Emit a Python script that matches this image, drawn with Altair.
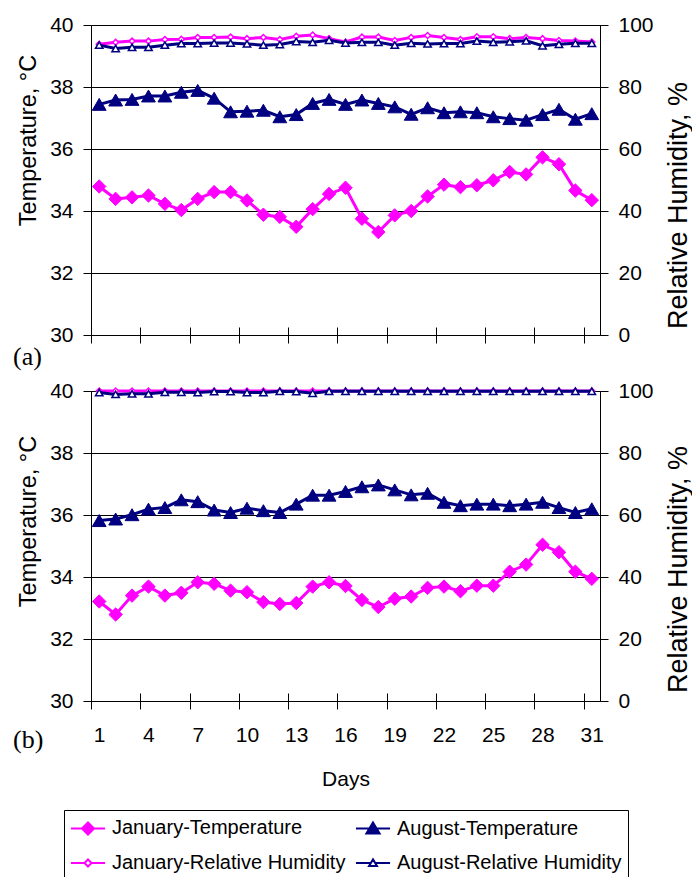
import altair as alt
import pandas as pd

# ---------------- data ----------------
days = list(range(1, 32))
label_days = [1, 4, 7, 10, 13, 16, 19, 22, 25, 28, 31]
temp_ticks = [30, 32, 34, 36, 38, 40]
rh_ticks = [0, 20, 40, 60, 80, 100]

# legend order (Vega fills legend columns top-to-bottom)
series_names = ["January-Temperature", "January-Relative Humidity",
                "August-Temperature", "August-Relative Humidity"]

# (a)
jan_temp_a = [34.79, 34.39, 34.44, 34.50, 34.23, 34.03, 34.39, 34.61, 34.61, 34.34,
              33.88, 33.81, 33.49, 34.06, 34.55, 34.75, 33.75, 33.32, 33.86, 34.00,
              34.47, 34.85, 34.77, 34.83, 34.99, 35.26, 35.18, 35.73, 35.51, 34.66, 34.35]
aug_temp_a = [37.44, 37.58, 37.60, 37.71, 37.71, 37.83, 37.89, 37.64, 37.20, 37.22,
              37.25, 37.04, 37.11, 37.47, 37.60, 37.44, 37.58, 37.47, 37.36, 37.12,
              37.33, 37.17, 37.20, 37.17, 37.04, 36.98, 36.93, 37.11, 37.28, 36.96, 37.14]
jan_rh_a = [93.8, 94.4, 94.8, 94.8, 95.3, 95.4, 96.0, 96.0, 96.1, 95.6,
            96.0, 95.3, 96.4, 96.8, 95.6, 94.5, 96.1, 96.1, 95.0, 96.0,
            96.6, 96.0, 95.3, 96.2, 96.2, 95.6, 96.0, 95.6, 95.0, 94.8, 94.5]
aug_rh_a = [93.5, 92.4, 92.8, 92.8, 93.5, 94.0, 94.0, 94.2, 94.2, 93.9,
            93.5, 93.7, 94.7, 94.4, 95.1, 94.2, 94.4, 94.4, 93.5, 94.1,
            93.9, 94.0, 94.0, 94.8, 94.4, 94.6, 94.9, 93.3, 93.8, 94.1, 94.1]

# (b)
jan_temp_b = [33.21, 32.79, 33.40, 33.69, 33.40, 33.49, 33.83, 33.78, 33.56, 33.51,
              33.19, 33.13, 33.16, 33.69, 33.83, 33.71, 33.26, 33.03, 33.30, 33.37,
              33.65, 33.69, 33.54, 33.72, 33.72, 34.17, 34.40, 35.04, 34.80, 34.17, 33.94]
aug_temp_b = [35.82, 35.87, 36.01, 36.19, 36.24, 36.49, 36.43, 36.16, 36.08, 36.22,
              36.14, 36.08, 36.35, 36.64, 36.64, 36.76, 36.91, 36.97, 36.81, 36.65,
              36.70, 36.41, 36.30, 36.35, 36.35, 36.30, 36.35, 36.41, 36.24, 36.08, 36.20]
jan_rh_b = [100.0, 100.0, 100.0, 100.0, 100.0, 100.0, 100.0, 100.0, 100.0, 100.0,
            100.0, 100.0, 100.0, 100.0, 100.0, 100.0, 100.0, 100.0, 100.0, 100.0,
            100.0, 100.0, 100.0, 100.0, 100.0, 100.0, 100.0, 100.0, 100.0, 100.0, 100.0]
aug_rh_b = [99.5, 98.9, 99.1, 99.1, 99.6, 99.6, 99.5, 99.8, 99.8, 99.5,
            99.5, 99.9, 99.8, 99.3, 99.9, 99.9, 99.9, 99.9, 99.9, 99.9,
            99.9, 99.9, 99.9, 99.9, 99.9, 99.9, 99.9, 99.9, 99.9, 99.9, 99.9]

# ---------------- style ----------------
MAGENTA = "#FF00FF"
NAVY = "#000080"
SANS = "Liberation Sans, Arial"
SERIF = "Liberation Serif, Times New Roman"
LBL = 21

W, H = 509, 310
half_band = W / 31 / 2
tick_bounds = [d - 0.5 for d in label_days]

x_scale = alt.Scale(domain=[0.5, 31.5], nice=False, zero=False)


def x_enc(show_labels):
    common = dict(values=tick_bounds, tickSize=16, tickColor="black", tickWidth=1,
                  offset=-8, domain=False, grid=False)
    if show_labels:
        axis = alt.Axis(labelExpr="format(datum.value + 0.5, 'd')", labelOffset=half_band,
                        labelPadding=15, labelFont=SANS, labelFontSize=LBL,
                        labelColor="black", labelFlush=False, labelOverlap=False,
                        title="Days", titleFont=SANS, titleFontSize=21,
                        titleFontWeight="normal", titleColor="black",
                        titleBaseline="alphabetic", titleY=92, **common)
    else:
        axis = alt.Axis(labels=False, title=None, **common)
    return alt.X("day:Q", scale=x_scale, axis=axis)


def temp_enc(title_y):
    axis = alt.Axis(values=temp_ticks, tickSize=8, tickColor="black", domain=False,
                    grid=True, gridColor="black", gridWidth=1, gridOpacity=1,
                    labelFont=SANS, labelFontSize=LBL, labelPadding=10,
                    labelColor="black", title="Temperature, °C", titleFont=SANS,
                    titleFontSize=23.5, titleFontWeight="normal", titleColor="black",
                    titleAngle=270, titleX=-63, titleY=title_y,
                    titleBaseline="middle", titleAlign="center")
    return alt.Y("v:Q", scale=alt.Scale(domain=[30, 40], nice=False, zero=False), axis=axis)


def rh_enc(title_y):
    axis = alt.Axis(orient="right", values=rh_ticks, tickSize=8, tickColor="black",
                    domain=False, grid=False, labelFont=SANS, labelFontSize=LBL,
                    labelPadding=10, labelColor="black",
                    title="Relative Humidity, %", titleFont=SANS, titleFontSize=27,
                    titleFontWeight="normal", titleColor="black", titleAngle=270,
                    titleX=78, titleY=title_y, titleBaseline="middle",
                    titleAlign="center")
    return alt.Y("v:Q", scale=alt.Scale(domain=[0, 100], nice=False, zero=False), axis=axis)


def series_layers(values, x, y, color, shape, size, fill, stroke_w):
    df = pd.DataFrame({"day": days, "v": values})
    base = alt.Chart(df)
    line = base.mark_line(color=color, strokeWidth=3).encode(x=x, y=y)
    pts = base.mark_point(shape=shape, size=size, fill=fill, stroke=color,
                          strokeWidth=stroke_w, opacity=1, filled=True).encode(x=x, y=y)
    return [line, pts]


def panel(jt, at, jr, ar, tag, tag_dy, show_labels, t_title_y, r_title_y, with_legend):
    x = x_enc(show_labels)
    ty = temp_enc(t_title_y)
    ry = rh_enc(r_title_y)
    temp_layers = (series_layers(jt, x, ty, MAGENTA, "diamond", 180, MAGENTA, 1)
                   + series_layers(at, x, ty, NAVY, "triangle-up", 190, NAVY, 1))
    if with_legend:
        shape_paths = [
            "M-1.55,0H1.55M0,-0.55L0.55,0L0,0.55L-0.55,0Z",
            "M-1.55,0H-0.32M0.32,0H1.55M0,-0.32L0.32,0L0,0.32L-0.32,0Z",
            "M-1.55,0H1.55M0,-0.55L0.6,0.45L-0.6,0.45Z",
            "M-1.55,0H-0.2M0.2,0H1.55M0,-0.33L0.36,0.27L-0.36,0.27Z",
        ]
        leg = alt.Legend(title=None, orient="none", legendX=-27, legendY=785,
                         columns=2, columnPadding=5, rowPadding=12, padding=6,
                         strokeColor="black", fillColor="white", symbolSize=484,
                         symbolOffset=6, symbolStrokeWidth=2, symbolOpacity=1,
                         labelFont=SANS, labelFontSize=20, labelOffset=12,
                         labelLimit=400, labelColor="black")
        ldf = pd.DataFrame({"series": series_names, "day": [1, 1, 1, 1],
                            "v": [None, None, None, None]})
        legend_layer = alt.Chart(ldf).mark_point(opacity=1, strokeWidth=2).encode(
            x=x, y=ty,
            shape=alt.Shape("series:N", scale=alt.Scale(domain=series_names, range=shape_paths), legend=leg),
            fill=alt.Fill("series:N", scale=alt.Scale(domain=series_names, range=[MAGENTA, "white", NAVY, "white"]), legend=leg),
            stroke=alt.Stroke("series:N", scale=alt.Scale(domain=series_names, range=[MAGENTA, MAGENTA, NAVY, NAVY]), legend=leg),
        )
        temp_layers.append(legend_layer)
    rh_layers = (series_layers(jr, x, ry, MAGENTA, "diamond", 35, "white", 1.5)
                 + series_layers(ar, x, ry, NAVY, "triangle-up", 55, "white", 1.5))
    tag_df = pd.DataFrame({"t": [tag]})
    tag_layer = alt.Chart(tag_df).mark_text(font=SERIF, fontSize=26, align="left",
                                            baseline="alphabetic", color="black").encode(
        x=alt.value(-78), y=alt.value(H + tag_dy), text="t:N")
    return alt.layer(alt.layer(*temp_layers), alt.layer(*rh_layers), tag_layer).resolve_scale(
        y="independent").properties(width=W, height=H)


top = panel(jan_temp_a, aug_temp_a, jan_rh_a, aug_rh_a, "(a)", 30, False, 115, 180, False)
bottom = panel(jan_temp_b, aug_temp_b, jan_rh_b, aug_rh_b, "(b)", 47, True, 130, 178, True)

chart = alt.vconcat(top, bottom, spacing=56, bounds="flush").configure_view(
    stroke="black", strokeWidth=1
).properties(
    padding={"left": 12, "top": 13, "right": 0, "bottom": 0},
    background="white",
)

chart.save("out.html", embed_options={"renderer": "svg", "actions": False})
